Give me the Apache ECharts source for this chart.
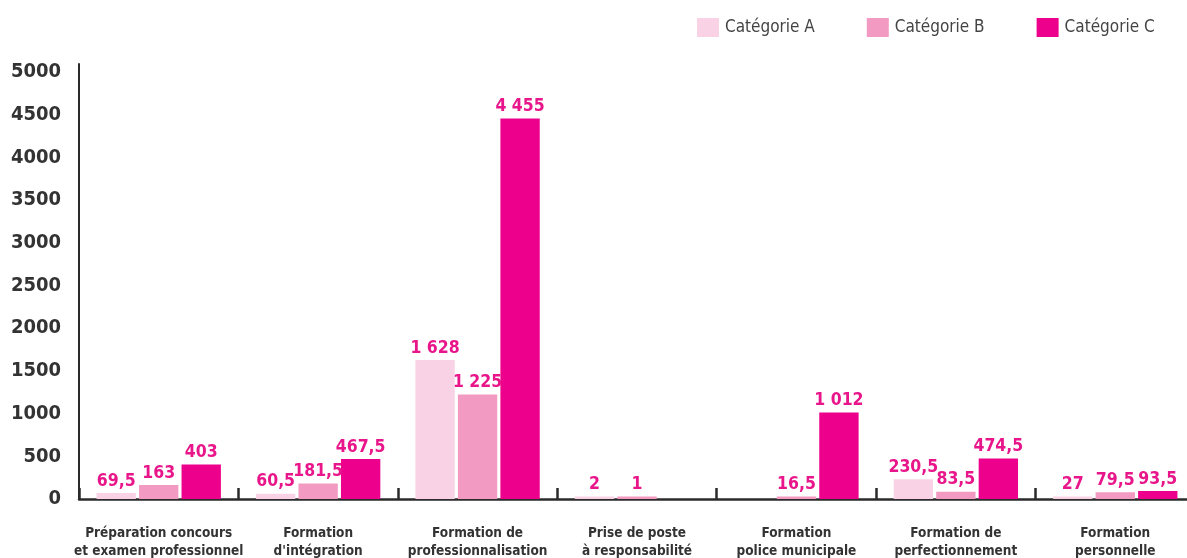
<!DOCTYPE html>
<html>
<head>
<meta charset="utf-8">
<script src="https://cdn.jsdelivr.net/npm/echarts@6/dist/echarts.min.js"></script>
<style>
  html, body { margin: 0; padding: 0; background: #fff; }
  #chart { width: 1187px; height: 558px; }
</style>
</head>
<body>
<div id="chart"></div>
<script>
// Training days by type of training and staff category
const categories = [
  'Préparation concours\net examen professionnel',
  'Formation\nd\'intégration',
  'Formation de\nprofessionnalisation',
  'Prise de poste\nà responsabilité',
  'Formation\npolice municipale',
  'Formation de\nperfectionnement',
  'Formation\npersonnelle'
];
const seriesNames = ['Catégorie A', 'Catégorie B', 'Catégorie C'];
const valuesA = [69.5, 60.5, 1628, 2, null, 230.5, 27];
const valuesB = [163, 181.5, 1225, 1, 16.5, 83.5, 79.5];
const valuesC = [403, 467.5, 4455, null, 1012, 474.5, 93.5];
const colors = ['#f9d3e5', '#f39ac2', '#ec008c'];
const yTicks = { min: 0, max: 5000, step: 500 };

// French number format: space as thousands separator, comma as decimal mark
function frNumber(v) {
  const parts = String(v).split('.');
  parts[0] = parts[0].replace(/\B(?=(\d{3})+(?!\d))/g, ' ');
  return parts.join(',');
}

const narrow = '"DejaVu Sans Condensed", "Liberation Sans Narrow", sans-serif';

function barSeries(name, data, color) {
  return {
    name: name,
    type: 'bar',
    data: data,
    barGap: '8%',
    barCategoryGap: '22%',
    barMinHeight: 2.5,
    itemStyle: { color: color },
    label: {
      show: true,
      position: 'top',
      distance: 3,
      color: '#e8168a',
      fontFamily: narrow,
      fontWeight: 'bold',
      fontSize: 17.5,
      formatter: p => (p.value == null ? '' : frNumber(p.value))
    }
  };
}

const chart = echarts.init(document.getElementById('chart'), null, { renderer: 'canvas' });
chart.setOption({
  animation: false,
  legend: {
    data: seriesNames,
    left: 692,
    top: 13,
    width: 490,
    itemWidth: 22,
    itemHeight: 19,
    itemGap: 52,
    icon: 'rect',
    textStyle: { color: '#444', fontFamily: narrow, fontSize: 17, padding: [0, 0, 0, 1] }
  },
  grid: { left: 79, right: -8, top: 64, bottom: 59, containLabel: false, outerBoundsMode: 'none' },
  xAxis: {
    type: 'category',
    data: categories,
    axisLine: { lineStyle: { color: '#2b2b2b', width: 2.5 } },
    axisTick: { show: true, inside: true, length: 11, lineStyle: { color: '#2b2b2b', width: 2.5 } },
    axisLabel: {
      color: '#333',
      fontFamily: narrow,
      fontWeight: 'bold',
      fontSize: 13.5,
      lineHeight: 18,
      margin: 25,
      interval: 0
    }
  },
  yAxis: {
    type: 'value',
    min: yTicks.min,
    max: 5094,
    interval: yTicks.step,
    splitLine: { show: false },
    axisTick: { show: false },
    axisLine: { show: true, lineStyle: { color: '#2b2b2b', width: 2 } },
    axisLabel: {
      color: '#333',
      fontFamily: narrow,
      fontWeight: 'bold',
      fontSize: 20,
      margin: 18,
      formatter: v => (v > yTicks.max ? '' : String(v))
    }
  },
  series: [
    barSeries(seriesNames[0], valuesA, colors[0]),
    barSeries(seriesNames[1], valuesB, colors[1]),
    barSeries(seriesNames[2], valuesC, colors[2])
  ]
});
</script>
</body>
</html>
